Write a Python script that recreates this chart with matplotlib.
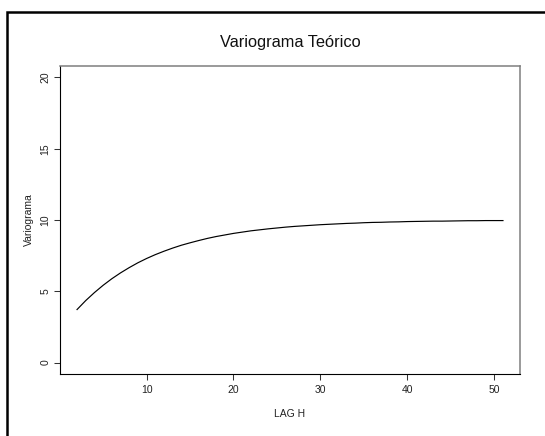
import matplotlib
matplotlib.use("Agg")
import matplotlib.pyplot as plt
from matplotlib.patches import Rectangle

plt.rcParams['font.family'] = ['Liberation Sans', 'DejaVu Sans']

# theoretical variogram at each lag
lag = [2, 3, 4, 5, 6, 7, 8, 9, 10, 11, 12, 13, 14, 15, 16, 17, 18, 19, 20,
       21, 22, 23, 24, 25, 26, 27, 28, 29, 30, 31, 32, 33, 34, 35, 36, 37,
       38, 39, 40, 41, 42, 43, 44, 45, 46, 47, 48, 49, 50, 51]
gamma = [3.72, 4.35, 4.91, 5.42, 5.88, 6.29, 6.66, 7.00, 7.30, 7.57, 7.81,
         8.03, 8.23, 8.40, 8.56, 8.71, 8.84, 8.95, 9.06, 9.15, 9.24, 9.31,
         9.38, 9.44, 9.50, 9.55, 9.59, 9.63, 9.67, 9.70, 9.73, 9.76, 9.78,
         9.81, 9.83, 9.84, 9.86, 9.87, 9.89, 9.90, 9.91, 9.92, 9.92, 9.93,
         9.94, 9.95, 9.95, 9.96, 9.96, 9.96]
xticks = [10, 20, 30, 40, 50]
yticks = [0, 5, 10, 15, 20]

W, H = 545, 436
fig = plt.figure(figsize=(W / 100, H / 100), dpi=100)

# outer frame (cropped on right and bottom)
fig.patches.append(Rectangle((7 / W, -0.05), 1.2, 1 - 12 / H + 0.05,
                             transform=fig.transFigure, fill=False,
                             edgecolor='black', linewidth=1.8))

left, right, top, bottom = 60, 520, 66, 374
ax = fig.add_axes([left / W, 1 - bottom / H, (right - left) / W, (bottom - top) / H])

ax.plot(lag, gamma, color='black', linewidth=0.85)

ax.set_xlim(0.04, 52.96)
ax.set_ylim(-0.8, 20.8)
ax.set_xticks(xticks)
ax.set_yticks(yticks)
ax.set_yticklabels([str(v) for v in yticks], rotation=90, va='center')

ax.tick_params(axis='both', length=4.3, width=0.75, color='#333333',
               labelsize=7.5, labelcolor='#222222', pad=3.5)
ax.tick_params(axis='y', pad=2.5)

for s in ['left', 'bottom']:
    ax.spines[s].set_color('black')
    ax.spines[s].set_linewidth(0.8)
for s in ['top', 'right']:
    ax.spines[s].set_color('#7f7f7f')
    ax.spines[s].set_linewidth(1.1)

ax.set_xlabel('LAG H', fontsize=7.5, color='#222222', labelpad=10)
ax.set_ylabel('Variograma', fontsize=7.5, color='#222222', labelpad=5)
ax.set_title('Variograma Teórico', fontsize=11.8, color='#111111', pad=14)

fig.savefig('out.png', dpi=100)
